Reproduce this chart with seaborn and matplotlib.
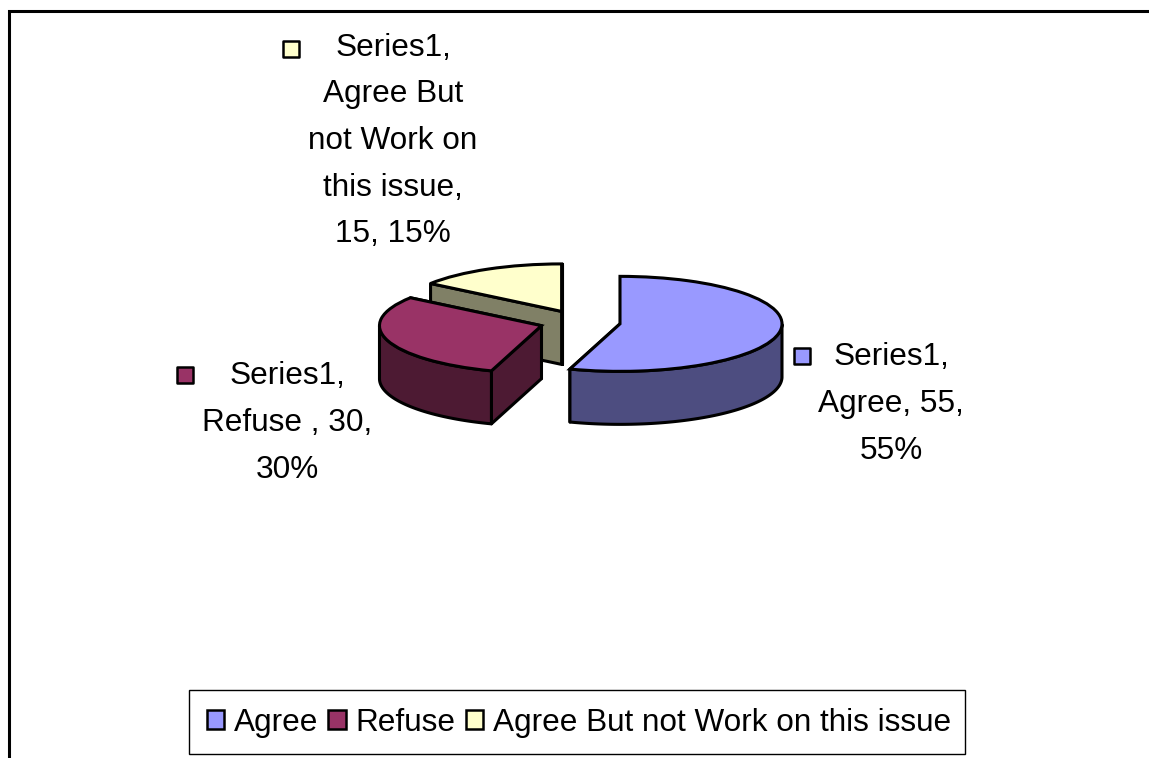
import numpy as np
import matplotlib.pyplot as plt
from matplotlib.patches import Patch, Rectangle
import seaborn as sns

W, H = 1149, 758

categories = ['Agree', 'Refuse', 'Agree But not Work on this issue']
values = [55, 30, 15]
top_colors = ['#9999FF', '#993366', '#FFFFCC']
side_colors = ['#4D4D80', '#4D1A33', '#808066']
label_texts = [
    'Series1,\nAgree, 55,\n55%',
    'Series1,\nRefuse , 30,\n30%',
    'Series1,\nAgree But\nnot Work on\nthis issue,\n15, 15%',
]
label_pos = [(891, 404), (287, 423), (393, 141)]
key_pos = [(802, 356), (185, 375), (291, 49)]

# pie geometry in pixels: flattened ellipse and wall height
cx, cy, rx, ry, depth = 580, 322, 162, 47.5, 53

sns.set_theme(style='white')
plt.rcParams['font.family'] = ['Liberation Sans', 'DejaVu Sans']
plt.rcParams['text.color'] = 'black'

fig = plt.figure(figsize=(W / 100, H / 100), dpi=100)

# overlay in pixel coordinates for frame, labels and keys
over = fig.add_axes([0, 0, 1, 1])
over.set_xlim(0, W)
over.set_ylim(H, 0)
over.axis('off')
over.plot([8.7, 8.7, W], [H, 10.8, 10.8], color='black', lw=2.2, solid_joinstyle='miter')
over.add_patch(Rectangle((189, 690), 776, 64, facecolor='white', edgecolor='black', linewidth=1))

ax = fig.add_axes([(cx - 1.25 * rx) / W, 1 - (cy + 1.25 * ry) / H, 2.5 * rx / W, 2.5 * ry / H])
ax.patch.set_alpha(0)
wedges, _ = ax.pie(values, colors=top_colors, explode=[0.25] * 3, startangle=90,
                   counterclock=False, wedgeprops={'edgecolor': 'black', 'linewidth': 2.2})
ax.set_aspect('auto')
ax.set_xlim(-1.25, 1.25)
ax.set_ylim(-1.25, 1.25)

drop = depth / ry
edge = {'edgecolor': 'black', 'linewidth': 2.2, 'joinstyle': 'round', 'clip_on': False}
# back slices first so the nearer ones cover them
for i in [2, 1, 0]:
    w = wedges[i]
    x0, y0 = w.center
    base = 10 * (3 - i)
    for th in (w.theta1, w.theta2):
        ex = x0 + np.cos(np.radians(th))
        ey = y0 + np.sin(np.radians(th))
        ax.fill([x0, ex, ex, x0], [y0, ey, ey - drop, y0 - drop],
                facecolor=side_colors[i], zorder=base, **edge)
    th = np.linspace(w.theta1, w.theta2, 200)
    th = th[np.sin(np.radians(th)) <= 0]
    if len(th) > 1:
        ax_x = x0 + np.cos(np.radians(th))
        ax_y = y0 + np.sin(np.radians(th))
        ax.fill(np.r_[ax_x, ax_x[::-1]], np.r_[ax_y, ax_y[::-1] - drop],
                facecolor=side_colors[i], zorder=base + 1, **edge)
    w.set_zorder(base + 2)

for txt, (lx, ly), (kx, ky), col in zip(label_texts, label_pos, key_pos, top_colors):
    over.text(lx, ly, txt, ha='center', va='center', fontsize=22.7, color='black', linespacing=1.72)
    over.scatter([kx], [ky], marker='s', s=125, color=col, edgecolor='black', linewidth=1.8, zorder=5)

handles = [Patch(facecolor=c, edgecolor='black', linewidth=1.8) for c in top_colors]
leg = fig.legend(handles, categories, loc='center', ncol=3, fontsize=22.7,
                 bbox_to_anchor=(579 / W, 1 - 723 / H), bbox_transform=fig.transFigure,
                 borderaxespad=0, frameon=False,
                 handlelength=0.55, handleheight=0.55, handletextpad=0.32,
                 columnspacing=0.32, borderpad=0)

fig.savefig('out.png', dpi=100)
